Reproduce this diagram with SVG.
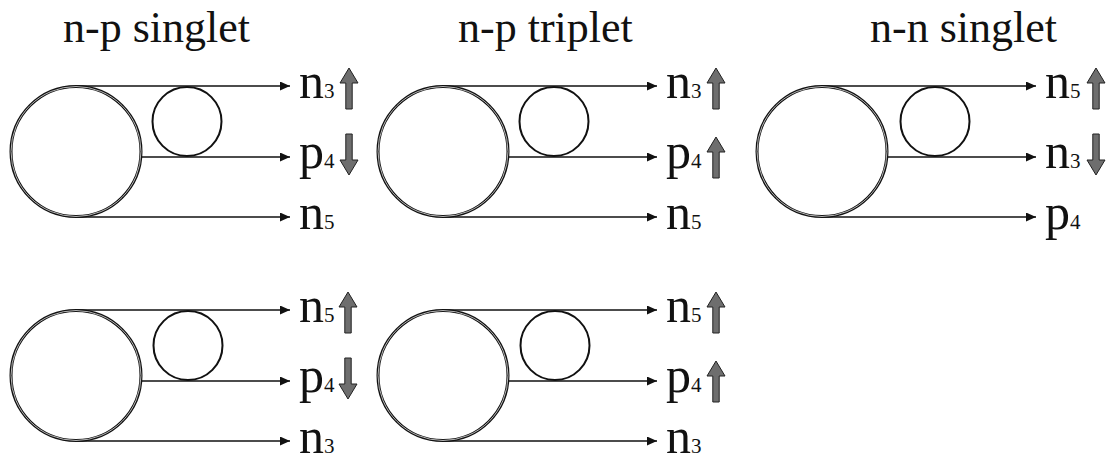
<svg xmlns="http://www.w3.org/2000/svg" xmlns:xlink="http://www.w3.org/1999/xlink" width="1115" height="464" viewBox="0 0 1115 464">
<style>
.title{font-family:'Liberation Serif','Times New Roman',serif;font-size:44px;fill:#111}
.lbl{font-family:'Liberation Serif','Times New Roman',serif;font-size:50px;fill:#111}
.sub{font-size:21px}
.big{fill:none;stroke:#111;stroke-width:3}
.bigin{fill:none;stroke:#c8c8c8;stroke-width:0.9}
.small{fill:none;stroke:#111;stroke-width:2}
.conn{stroke:#111;stroke-width:1.6;fill:none;marker-end:url(#ah)}
.spin{fill:#6e6e6e;stroke:#222;stroke-width:1}
</style>
<defs>
<marker id="ah" markerUnits="userSpaceOnUse" markerWidth="11" markerHeight="9" refX="10" refY="4.5" orient="auto">
<path d="M0,0 L10,4.5 L0,9 z" fill="#111"/>
</marker>
<path id="up" d="M0,-21 L9,-6 L3.2,-6 L3.2,20 L-3.2,20 L-3.2,-6 L-9,-6 z"/>
<path id="down" d="M0,21 L9,6 L3.2,6 L3.2,-20 L-3.2,-20 L-3.2,6 L-9,6 z"/>
</defs>
<rect width="1115" height="464" fill="#fff"/>
<text class="title" x="63" y="42">n-p singlet</text>
<text class="title" x="458" y="42">n-p triplet</text>
<text class="title" x="870" y="42">n-n singlet</text>

<g id="connectors">
<line class="conn" x1="76" y1="86" x2="290" y2="86"/>
<line class="conn" x1="141" y1="157" x2="290" y2="157"/>
<line class="conn" x1="76" y1="217" x2="290" y2="217"/>
<line class="conn" x1="443" y1="86" x2="657" y2="86"/>
<line class="conn" x1="508" y1="157" x2="657" y2="157"/>
<line class="conn" x1="443" y1="217" x2="657" y2="217"/>
<line class="conn" x1="822" y1="86" x2="1036" y2="86"/>
<line class="conn" x1="887" y1="157" x2="1036" y2="157"/>
<line class="conn" x1="822" y1="217" x2="1036" y2="217"/>
<line class="conn" x1="76" y1="310" x2="290" y2="310"/>
<line class="conn" x1="141" y1="381" x2="290" y2="381"/>
<line class="conn" x1="76" y1="441" x2="290" y2="441"/>
<line class="conn" x1="443" y1="310" x2="657" y2="310"/>
<line class="conn" x1="508" y1="381" x2="657" y2="381"/>
<line class="conn" x1="443" y1="441" x2="657" y2="441"/>
</g>

<g id="panel-np-singlet-1">
<circle class="big" cx="76" cy="151.5" r="65"/><circle class="bigin" cx="76" cy="151.5" r="65"/>
<circle class="small" cx="187" cy="121.5" r="34.5"/>
<text class="lbl" x="299" y="98">n<tspan class="sub">3</tspan></text>
<use xlink:href="#up" class="spin" x="349" y="89"/>
<text class="lbl" x="299" y="168">p<tspan class="sub">4</tspan></text>
<use xlink:href="#down" class="spin" x="349" y="154"/>
<text class="lbl" x="299" y="229">n<tspan class="sub">5</tspan></text>
</g>

<g id="panel-np-triplet-1">
<circle class="big" cx="443" cy="151.5" r="65"/><circle class="bigin" cx="443" cy="151.5" r="65"/>
<circle class="small" cx="554" cy="121.5" r="34.5"/>
<text class="lbl" x="666" y="98">n<tspan class="sub">3</tspan></text>
<use xlink:href="#up" class="spin" x="716" y="89"/>
<text class="lbl" x="666" y="168">p<tspan class="sub">4</tspan></text>
<use xlink:href="#up" class="spin" x="716" y="158"/>
<text class="lbl" x="666" y="229">n<tspan class="sub">5</tspan></text>
</g>

<g id="panel-nn-singlet">
<circle class="big" cx="822" cy="151.5" r="65"/><circle class="bigin" cx="822" cy="151.5" r="65"/>
<circle class="small" cx="935" cy="121.5" r="34.5"/>
<text class="lbl" x="1045" y="98">n<tspan class="sub">5</tspan></text>
<use xlink:href="#up" class="spin" x="1096" y="89"/>
<text class="lbl" x="1045" y="168">n<tspan class="sub">3</tspan></text>
<use xlink:href="#down" class="spin" x="1096" y="154"/>
<text class="lbl" x="1045" y="229">p<tspan class="sub">4</tspan></text>
</g>

<g id="panel-np-singlet-2">
<circle class="big" cx="76" cy="375.5" r="65"/><circle class="bigin" cx="76" cy="375.5" r="65"/>
<circle class="small" cx="188" cy="345.5" r="34.5"/>
<text class="lbl" x="299" y="322">n<tspan class="sub">5</tspan></text>
<use xlink:href="#up" class="spin" x="348" y="313"/>
<text class="lbl" x="299" y="392">p<tspan class="sub">4</tspan></text>
<use xlink:href="#down" class="spin" x="348" y="378"/>
<text class="lbl" x="299" y="453">n<tspan class="sub">3</tspan></text>
</g>

<g id="panel-np-triplet-2">
<circle class="big" cx="443" cy="375.5" r="65"/><circle class="bigin" cx="443" cy="375.5" r="65"/>
<circle class="small" cx="555" cy="345.5" r="34.5"/>
<text class="lbl" x="666" y="322">n<tspan class="sub">5</tspan></text>
<use xlink:href="#up" class="spin" x="716" y="313"/>
<text class="lbl" x="666" y="392">p<tspan class="sub">4</tspan></text>
<use xlink:href="#up" class="spin" x="716" y="382"/>
<text class="lbl" x="666" y="453">n<tspan class="sub">3</tspan></text>
</g>
</svg>
